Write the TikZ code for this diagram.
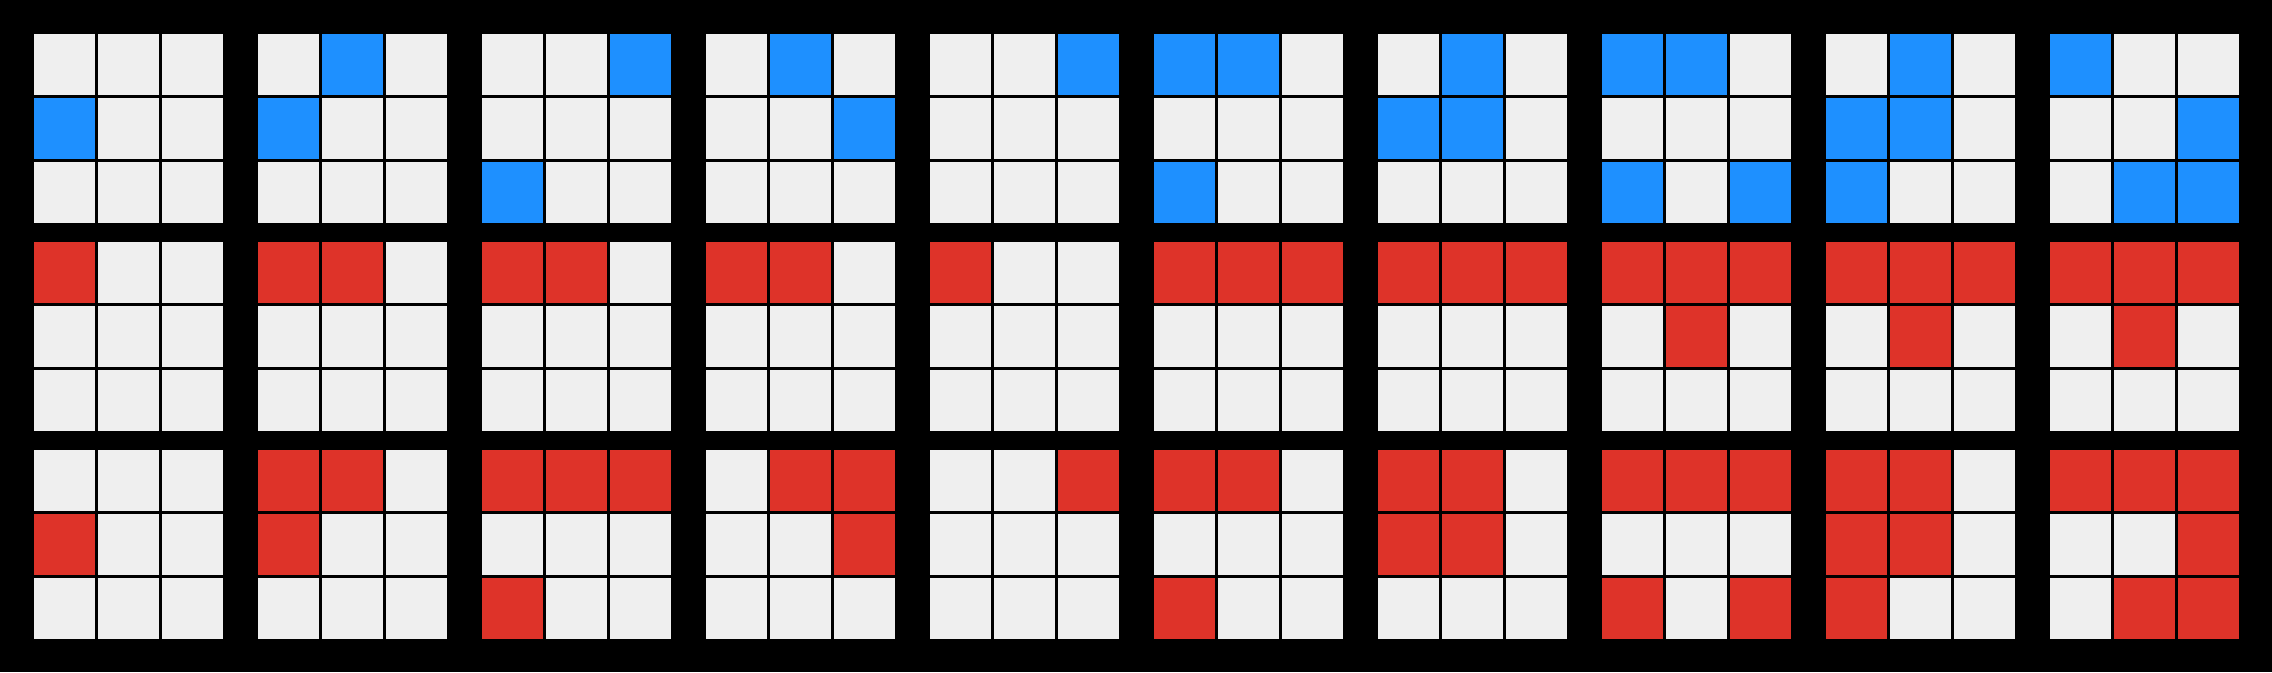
\documentclass[tikz,border=0pt]{standalone}
\usepackage{tikz}
\definecolor{cellgray}{HTML}{EFEFEF}
\definecolor{cellblue}{HTML}{1E90FF}
\definecolor{cellred}{HTML}{DE3329}
\tikzset{
  cell/.style={fill=cellgray},
}
\newcommand{\gridcells}[4]{% grid column, grid row, colour, marked cells
  \foreach \k in {1,...,9}{
    \pgfmathtruncatemacro{\cr}{(\k-1)/3}
    \pgfmathtruncatemacro{\cc}{mod(\k-1,3)}
    \fill[cell] ({34+224*#1+64*\cc},{34+208*#2+64*\cr}) rectangle +(61,61);
  }
  \foreach \k in #4{
    \pgfmathtruncatemacro{\cr}{(\k-1)/3}
    \pgfmathtruncatemacro{\cc}{mod(\k-1,3)}
    \fill[#3] ({34+224*#1+64*\cc},{34+208*#2+64*\cr}) rectangle +(61,61);
  }
}
\begin{document}
\begin{tikzpicture}[x=0.01cm,y=-0.01cm]
      \fill[black] (0,0) rectangle (2272,672);
      % top row
      \foreach \g/\cl in {0/{4},1/{2,4},2/{3,7},3/{2,6},4/{3},
                          5/{1,2,7},6/{2,4,5},7/{1,2,7,9},8/{2,4,5,7},9/{1,6,8,9}}
        {\gridcells{\g}{0}{cellblue}{\cl}}
      % middle row
      \foreach \g/\cl in {0/{1},1/{1,2},2/{1,2},3/{1,2},4/{1},
                          5/{1,2,3},6/{1,2,3},7/{1,2,3,5},8/{1,2,3,5},9/{1,2,3,5}}
        {\gridcells{\g}{1}{cellred}{\cl}}
      % bottom row
      \foreach \g/\cl in {0/{4},1/{1,2,4},2/{1,2,3,7},3/{2,3,6},4/{3},
                          5/{1,2,7},6/{1,2,4,5},7/{1,2,3,7,9},8/{1,2,4,5,7},9/{1,2,3,6,8,9}}
        {\gridcells{\g}{2}{cellred}{\cl}}
    \end{tikzpicture}
\end{document}
